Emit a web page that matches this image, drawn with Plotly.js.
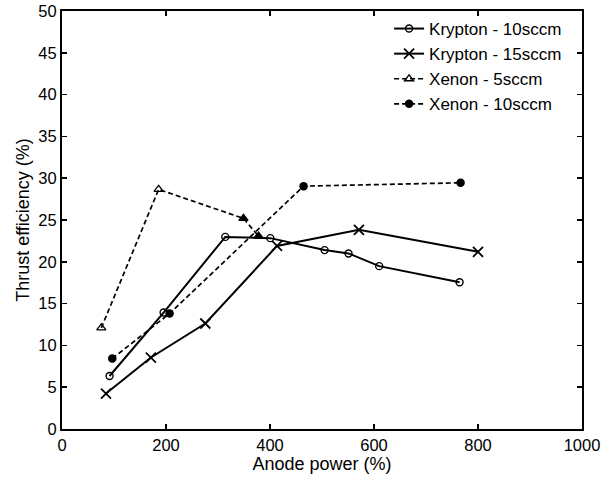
<!DOCTYPE html>
<html>
<head>
<meta charset="utf-8">
<script src="https://cdn.plot.ly/plotly-3.0.1.min.js"></script>
<style>html,body{margin:0;padding:0;background:#fff;}#chart{width:616px;height:477px;}</style>
</head>
<body>
<div id="chart"></div>
<script>
const seriesNames = ["Krypton - 10sccm", "Krypton - 15sccm", "Xenon - 5sccm", "Xenon - 10sccm"];
const kr10_x = [91.5, 195.4, 314, 400.6, 505, 551, 610, 764.6];
const kr10_y = [6.34, 13.93, 22.98, 22.83, 21.4, 21.0, 19.48, 17.56];
const kr15_x = [84.6, 171, 275.6, 413.5, 571, 800];
const kr15_y = [4.24, 8.55, 12.62, 21.9, 23.82, 21.19];
const xe5_x = [75.6, 185.8, 349, 378];
const xe5_y = [12.09, 28.66, 25.19, 23.07];
const xe10_x = [96.7, 206.9, 464.6, 766.5];
const xe10_y = [8.43, 13.81, 29.05, 29.45];
const xTicks = [0, 200, 400, 600, 800, 1000];
const yTicks = [0, 5, 10, 15, 20, 25, 30, 35, 40, 45, 50];

const fam = "Liberation Sans, Arial, sans-serif";
const tickFont = {family: fam, size: 16.5, color: "#000"};
const bigFont = {family: fam, size: 18, color: "#000"};
const legFont = {family: fam, size: 17, color: "#000"};
const traces = [
  {x: kr10_x, y: kr10_y, name: seriesNames[0], mode: "lines+markers",
   line: {color: "#000", width: 2},
   marker: {symbol: "circle-open", size: 7, color: "#000", line: {width: 1.4, color: "#000"}}},
  {x: kr15_x, y: kr15_y, name: seriesNames[1], mode: "lines+markers",
   line: {color: "#000", width: 2},
   marker: {symbol: "x-thin-open", size: 10, color: "#000", line: {width: 1.8, color: "#000"}}},
  {x: xe5_x, y: xe5_y, name: seriesNames[2], mode: "lines+markers",
   line: {color: "#000", width: 1.7, dash: "5px,3px"},
   marker: {symbol: ["triangle-up-open", "triangle-up-open", "triangle-up", "triangle-up"], size: 8, color: "#000", line: {width: 1.3, color: "#000"}}},
  {x: xe10_x, y: xe10_y, name: seriesNames[3], mode: "lines+markers",
   line: {color: "#000", width: 1.7, dash: "5px,3px"},
   marker: {symbol: "circle", size: 8.5, color: "#000", line: {width: 0, color: "#000"}}}
];
const axisCommon = {
  showgrid: false, zeroline: false, showline: true, linecolor: "#000", linewidth: 2,
  mirror: "ticks", ticks: "inside", ticklen: 5, tickwidth: 1.5, tickcolor: "#000",
  tickfont: tickFont
};
const layout = {
  width: 616, height: 477,
  margin: {l: 62, r: 34, t: 11, b: 48},
  paper_bgcolor: "#fff", plot_bgcolor: "#fff",
  font: bigFont,
  showlegend: true,
  legend: {x: 0.629, y: 1.0, xanchor: "left", yanchor: "top", bgcolor: "rgba(255,255,255,0)",
           borderwidth: 0, font: legFont, tracegroupgap: 0},
  xaxis: Object.assign({}, axisCommon, {range: [0, 1000], tickvals: xTicks, ticktext: xTicks.map(String),
    title: {text: "Anode power (%)", font: bigFont, standoff: 1}}),
  yaxis: Object.assign({}, axisCommon, {range: [0, 50], tickvals: yTicks, ticktext: yTicks.map(String),
    title: {text: "Thrust efficiency (%)", font: bigFont, standoff: 4}})
};
Plotly.newPlot("chart", traces, layout, {displayModeBar: false, staticPlot: true});
</script>
</body>
</html>
